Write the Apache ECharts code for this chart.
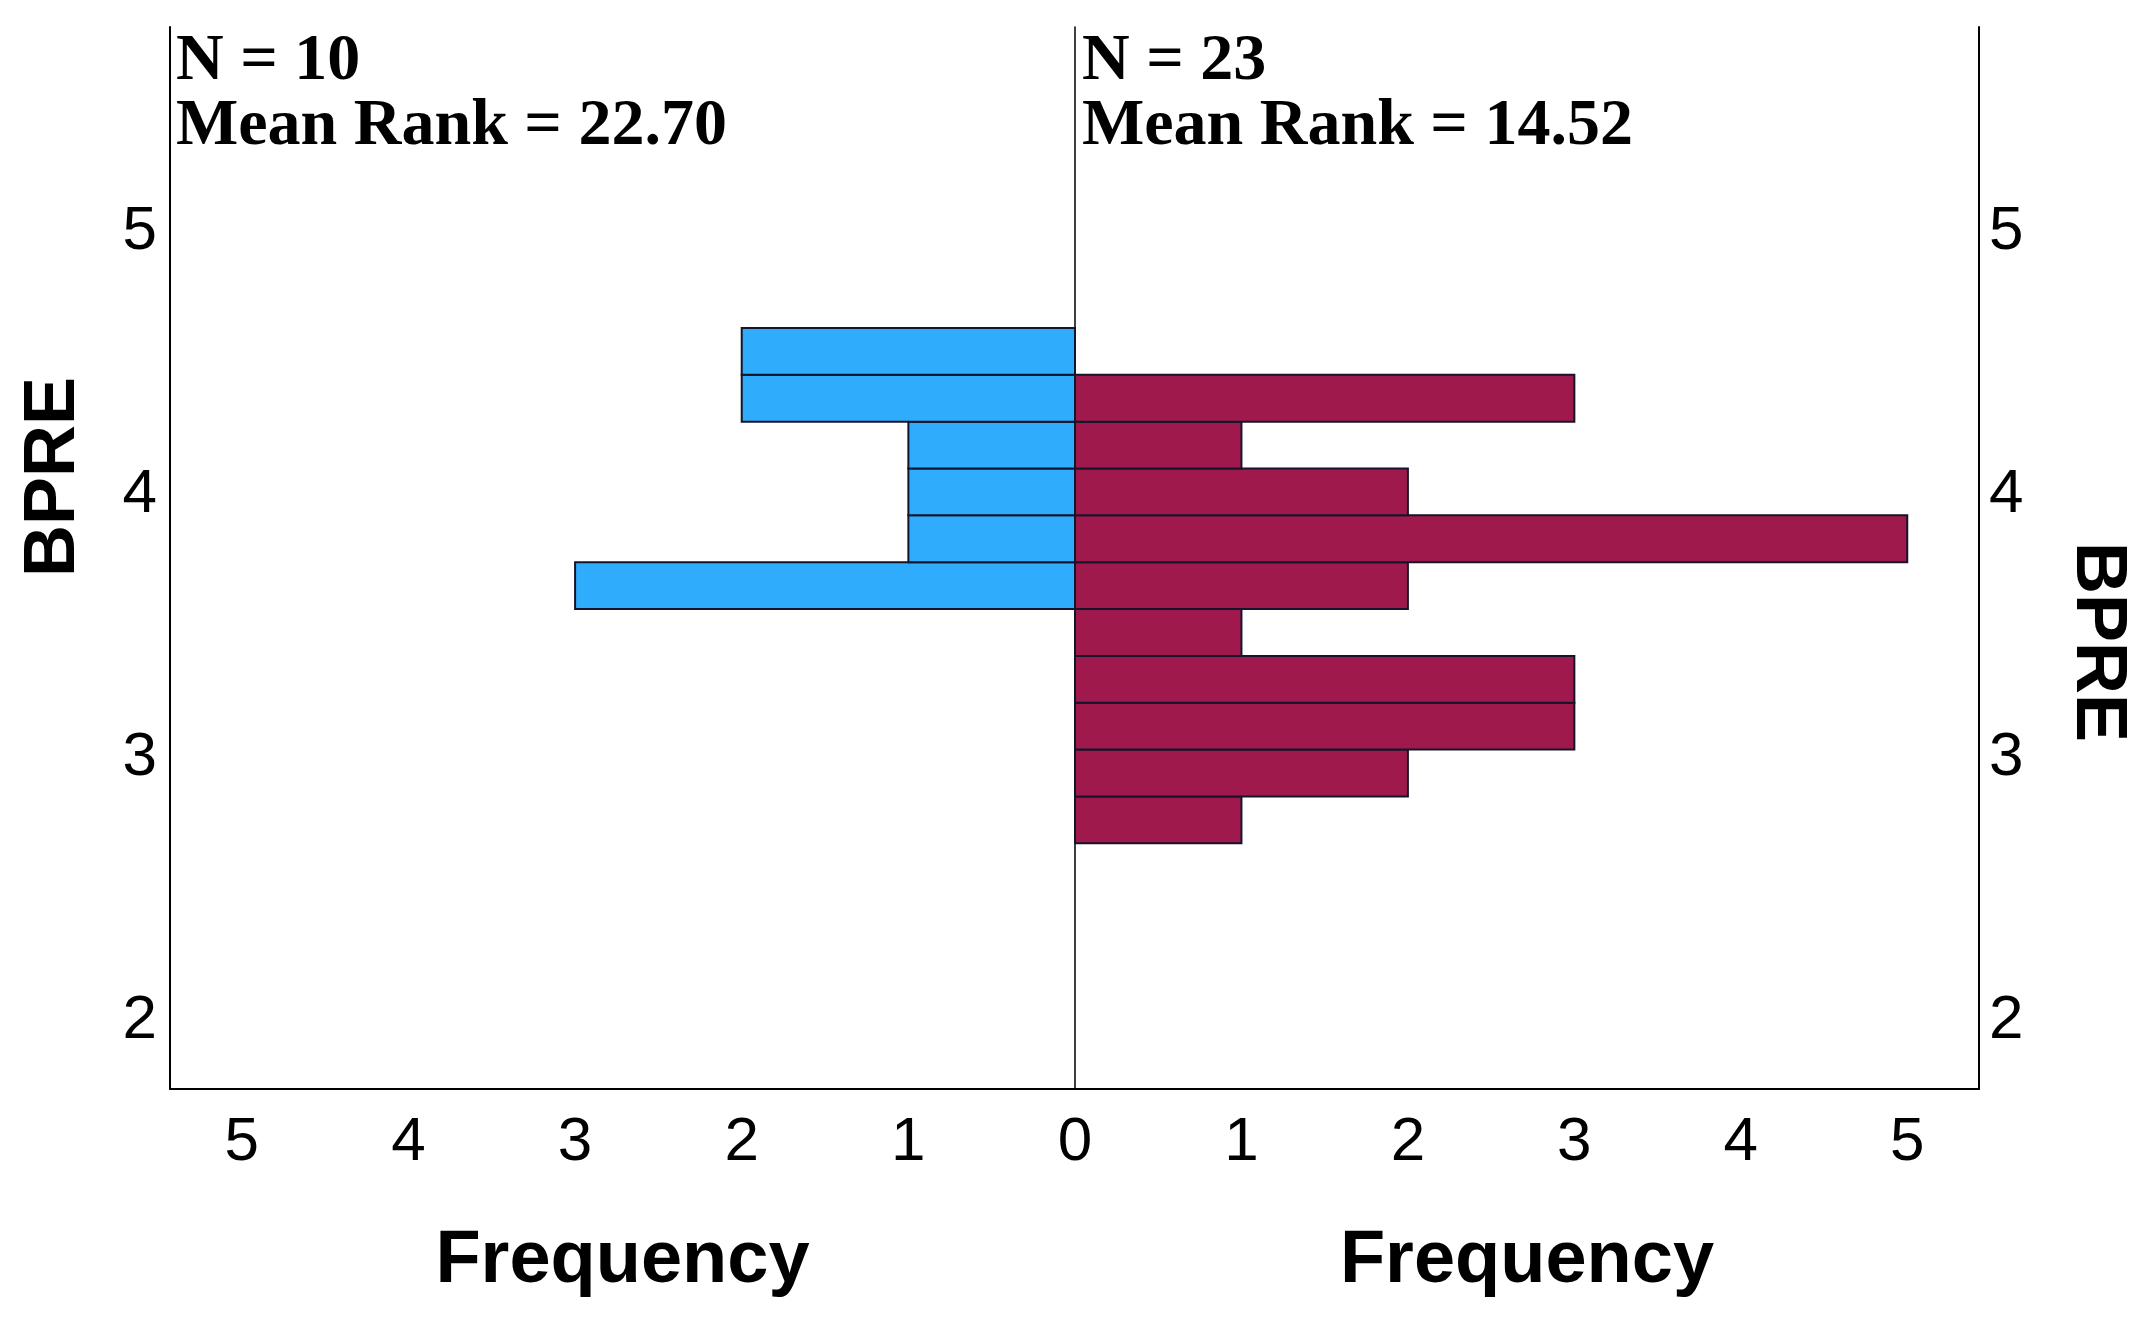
<!DOCTYPE html>
<html>
<head>
<meta charset="utf-8">
<script src="https://cdn.jsdelivr.net/npm/echarts@6/dist/echarts.min.js"></script>
<style>
html,body{margin:0;padding:0;background:#fff;}
#chart{width:2151px;height:1328px;}
</style>
</head>
<body>
<div id="chart"></div>
<script>
// ---- data ----
const binLower = [2.660, 2.838, 3.016, 3.194, 3.372, 3.550, 3.728, 3.906, 4.084, 4.262, 4.440];
const binUpper = [2.838, 3.016, 3.194, 3.372, 3.550, 3.728, 3.906, 4.084, 4.262, 4.440, 4.618];
const countsLeft  = [0, 0, 0, 0, 0, 3, 1, 1, 1, 2, 2];   // N = 10
const countsRight = [1, 2, 3, 3, 1, 2, 5, 2, 1, 3, 0];   // N = 23
const freqTicks = [0, 1, 2, 3, 4, 5];
const yTicks = [2, 3, 4, 5];
const leftLabel = 'N = 10\nMean Rank = 22.70';
const rightLabel = 'N = 23\nMean Rank = 14.52';
const axisName = 'BPRE';
const freqName = 'Frequency';

const FREQ_MAX = 5.431, Y_MIN = 1.726, Y_MAX = 5.762;
const BLUE = '#30ACFC', RED = '#A0194C', EDGE = '#14142a';

function mkData(counts) {
  const d = [];
  counts.forEach((c, i) => { if (c > 0) d.push([binLower[i], binUpper[i], c]); });
  return d;
}
function renderBar(params, api) {
  const lo = api.value(0), hi = api.value(1), c = api.value(2);
  const a = api.coord([0, hi]);
  const b = api.coord([c, lo]);
  return {
    type: 'rect',
    shape: { x: Math.min(a[0], b[0]), y: Math.min(a[1], b[1]), width: Math.abs(b[0] - a[0]), height: Math.abs(b[1] - a[1]) },
    style: api.style()
  };
}
const tickFont = { color: '#000', fontSize: 62, fontFamily: '"Liberation Sans Narrow","Liberation Sans",Arial,sans-serif' };
const freqFormatter = (hideZero) => (v) => (freqTicks.indexOf(v) >= 0 && !(hideZero && v === 0)) ? String(v) : '';
const yFormatter = (v) => yTicks.indexOf(Math.round(v * 1000) / 1000) >= 0 ? String(v) : '';
const annoStyle = { fontFamily: '"Liberation Serif","Times New Roman",serif', fontWeight: 'bold', fontSize: 66, lineHeight: 65, color: '#000' };
const nameStyle = { color: '#000', fontSize: 74, fontWeight: 'bold', fontFamily: '"Liberation Sans",Arial,sans-serif' };

const chart = echarts.init(document.getElementById('chart'), null, { renderer: 'canvas' });
chart.setOption({
  animation: false,
  backgroundColor: '#fff',
  title: [
    { text: leftLabel, left: 176, top: 29, padding: 0, textStyle: annoStyle },
    { text: rightLabel, left: 1082, top: 29, padding: 0, textStyle: annoStyle }
  ],
  grid: [
    { left: 170, top: 27, width: 905, height: 1062 },
    { left: 1075, top: 27, width: 904, height: 1062 }
  ],
  xAxis: [
    { gridIndex: 0, type: 'value', inverse: true, min: 0, max: FREQ_MAX, interval: 1,
      axisLine: { show: true, onZero: false, lineStyle: { color: '#000', width: 2 } }, axisTick: { show: false }, splitLine: { show: false },
      axisLabel: Object.assign({ margin: 23, showMaxLabel: false, formatter: freqFormatter(true) }, tickFont),
      name: freqName, nameLocation: 'middle', nameGap: 136, nameTextStyle: nameStyle },
    { gridIndex: 1, type: 'value', min: 0, max: FREQ_MAX, interval: 1,
      axisLine: { show: true, onZero: false, lineStyle: { color: '#000', width: 2 } }, axisTick: { show: false }, splitLine: { show: false },
      axisLabel: Object.assign({ margin: 23, showMaxLabel: false, formatter: freqFormatter(false) }, tickFont),
      name: freqName, nameLocation: 'middle', nameGap: 136, nameTextStyle: nameStyle }
  ],
  yAxis: [
    { gridIndex: 0, type: 'value', position: 'left', min: Y_MIN, max: Y_MAX,
      axisLine: { show: true, onZero: false, lineStyle: { color: '#000', width: 2 } }, axisTick: { show: false }, splitLine: { show: false },
      axisLabel: Object.assign({ margin: 13, verticalAlign: 'top', lineHeight: 8, showMinLabel: false, showMaxLabel: false, formatter: yFormatter }, tickFont) },
    { gridIndex: 1, type: 'value', position: 'right', min: Y_MIN, max: Y_MAX,
      axisLine: { show: true, onZero: false, lineStyle: { color: '#000', width: 2 } }, axisTick: { show: false }, splitLine: { show: false },
      axisLabel: Object.assign({ margin: 10, verticalAlign: 'top', lineHeight: 8, showMinLabel: false, showMaxLabel: false, formatter: yFormatter }, tickFont) },
    { gridIndex: 1, type: 'value', position: 'left', min: Y_MIN, max: Y_MAX,
      axisLine: { show: true, onZero: false, lineStyle: { color: '#000', width: 1.5 } }, axisTick: { show: false }, splitLine: { show: false },
      axisLabel: { show: false } }
  ],
  series: [
    { type: 'custom', xAxisIndex: 0, yAxisIndex: 0, renderItem: renderBar, data: mkData(countsLeft),
      encode: { x: 2, y: [0, 1] }, itemStyle: { color: BLUE, borderColor: EDGE, borderWidth: 2 } },
    { type: 'custom', xAxisIndex: 1, yAxisIndex: 1, renderItem: renderBar, data: mkData(countsRight),
      encode: { x: 2, y: [0, 1] }, itemStyle: { color: RED, borderColor: EDGE, borderWidth: 2 } }
  ],
  graphic: [
    { type: 'text', x: 54, y: 477, rotation: Math.PI / 2,
      style: { text: axisName, fill: '#000', fontSize: 72, fontWeight: 'bold', fontFamily: '"Liberation Sans",Arial,sans-serif', align: 'center', verticalAlign: 'middle' } },
    { type: 'text', x: 2097, y: 642, rotation: -Math.PI / 2,
      style: { text: axisName, fill: '#000', fontSize: 72, fontWeight: 'bold', fontFamily: '"Liberation Sans",Arial,sans-serif', align: 'center', verticalAlign: 'middle' } }
  ]
});
</script>
</body>
</html>
